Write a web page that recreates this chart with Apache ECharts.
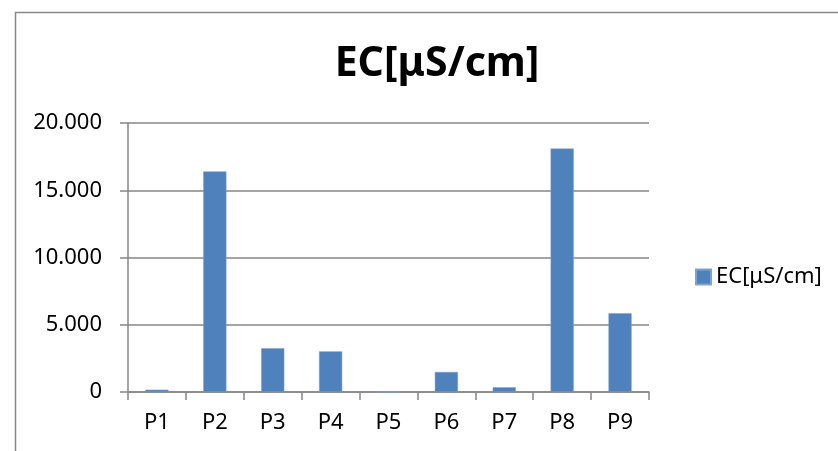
<!DOCTYPE html>
<html>
<head>
<meta charset="utf-8">
<script src="https://cdn.jsdelivr.net/npm/echarts@6/dist/echarts.min.js"></script>
<style>html,body{margin:0;padding:0;background:#fff}#c{width:838px;height:451px}</style>
</head>
<body>
<div id="c"></div>
<script>
var title = 'EC[μS/cm]';
var seriesName = 'EC[μS/cm]';
var categories = ['P1','P2','P3','P4','P5','P6','P7','P8','P9'];
var values = [170, 16400, 3250, 3020, 0, 1490, 350, 18100, 5850];
var yMin = 0, yMax = 20000, yStep = 5000;

function fmt(v){
  return String(Math.round(v)).replace(/\B(?=(\d{3})+(?!\d))/g, '.');
}
var FONT = 'Noto Sans';
var chart = echarts.init(document.getElementById('c'), null, {renderer:'canvas'});
chart.setOption({
  animation:false,
  backgroundColor:'#ffffff',
  graphic:[{
    type:'rect', left:13, top:10, silent:true,
    shape:{x:0,y:0,width:840,height:460},
    style:{fill:'none', stroke:'#888888', lineWidth:1.5}
  }],
  title:{
    text:title, left:432, top:39, textAlign:'center',
    textStyle:{fontFamily:FONT, fontWeight:'bold', fontSize:41, color:'#000'}
  },
  legend:{
    data:[seriesName], left:690, top:261, orient:'vertical',
    itemWidth:15, itemHeight:15, itemGap:6, icon:'rect',
    textStyle:{fontFamily:FONT, fontSize:22, color:'#000', padding:[0,0,0,0]}
  },
  grid:{left:128, right:189, top:123, bottom:59, containLabel:false},
  xAxis:{
    type:'category', data:categories,
    axisLine:{lineStyle:{color:'#868686', width:1.5}},
    axisTick:{show:true, length:8, inside:false, lineStyle:{color:'#868686', width:1.5}},
    axisLabel:{fontFamily:FONT, fontSize:22, color:'#000', margin:20},
    splitLine:{show:false}
  },
  yAxis:{
    type:'value', min:yMin, max:yMax, interval:yStep,
    axisLine:{show:true, lineStyle:{color:'#868686', width:1.5}},
    axisTick:{show:true, length:8, lineStyle:{color:'#868686', width:1.5}},
    axisLabel:{fontFamily:FONT, fontSize:22, color:'#000', margin:26, formatter:fmt},
    splitLine:{show:true, lineStyle:{color:'#868686', width:1.5}}
  },
  series:[{
    name:seriesName, type:'bar', data:values, barWidth:'40%',
    itemStyle:{color:'#4F81BD', borderColor:'#7EA3D0', borderWidth:0.5}
  }]
});
</script>
</body>
</html>
